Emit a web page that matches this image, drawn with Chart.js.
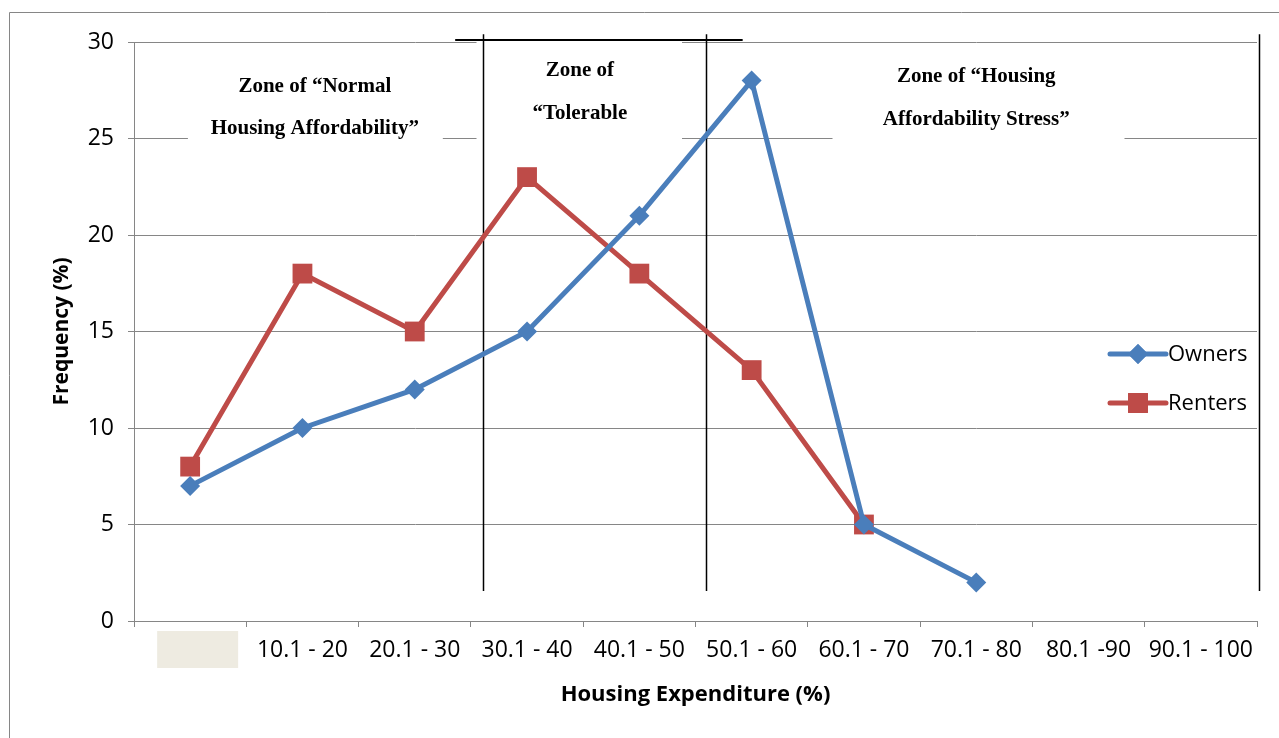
<!DOCTYPE html>
<html>
<head>
<meta charset="utf-8">
<script src="https://cdn.jsdelivr.net/npm/chart.js@4/dist/chart.umd.min.js"></script>
<style>
html, body { margin: 0; padding: 0; background: #fff; }
#wrap { width: 1279px; height: 738px; position: relative; }
</style>
</head>
<body>
<div id="wrap"><canvas id="housingChart"></canvas></div>
<script>
// ================================
// DATA
// ================================

const categories = [
    "",
    "10.1 - 20",
    "20.1 - 30",
    "30.1 - 40",
    "40.1 - 50",
    "50.1 - 60",
    "60.1 - 70",
    "70.1 - 80",
    "80.1 -90",
    "90.1 - 100"
];

const owners = [7, 10, 12, 15, 21, 28, 5, 2, null, null];

const renters = [8, 18, 15, 23, 18, 13, 5, null, null, null];

const yTicks = [0, 5, 10, 15, 20, 25, 30];

const zoneTexts = [
    ["Zone of \u201cNormal", "Housing Affordability\u201d"],
    ["Zone of", "\u201cTolerable"],
    ["Zone of \u201cHousing", "Affordability Stress\u201d"]
];

// ================================
// ANNOTATION LAYOUT (category units / y values)
// ================================

const zoneLineAt = [2.61, 4.59, 9.52];
const zoneTextAt = [
    { x: 1.11, y: [27.7, 25.5] },
    { x: 3.47, y: [28.5, 26.3] },
    { x: 7.0,  y: [28.2, 26.0] }
];
const zoneMasks = [
    { x0: -0.02, x1: 2.25, y0: 29.0, y1: 24.3 },
    { x0: 2.55,  x1: 4.38, y0: 30.2, y1: 24.5 },
    { x0: 5.72,  x1: 8.32, y0: 29.0, y1: 24.3 }
];

const BLUE = "#4A7EBB";
const RED = "#BE4B48";
const GRID = "#868686";
const FONT = "'Open Sans', 'Liberation Sans', sans-serif";

function catX(xs, u) {
    const p0 = xs.getPixelForValue(0);
    const p1 = xs.getPixelForValue(1);
    return p0 + u * (p1 - p0);
}

const zonePlugin = {
    id: "zones",
    beforeDraw(chart) {
        const ctx = chart.ctx;
        ctx.save();
        ctx.strokeStyle = GRID;
        ctx.lineWidth = 1;
        ctx.beginPath();
        ctx.moveTo(9.5, chart.height);
        ctx.lineTo(9.5, 12.5);
        ctx.lineTo(chart.width, 12.5);
        ctx.stroke();
        ctx.restore();
    },
    beforeDatasetsDraw(chart) {
        const ctx = chart.ctx;
        const xs = chart.scales.x;
        const ys = chart.scales.y;
        ctx.save();

        // white boxes behind zone labels
        ctx.fillStyle = "#fff";
        zoneMasks.forEach(m => {
            const x0 = catX(xs, m.x0), x1 = catX(xs, m.x1);
            const y0 = ys.getPixelForValue(m.y0), y1 = ys.getPixelForValue(m.y1);
            ctx.fillRect(x0, y0, x1 - x0, y1 - y0);
        });

        // zone boundaries
        ctx.strokeStyle = "#000";
        ctx.lineWidth = 1.5;
        const top = ys.getPixelForValue(30.4);
        const bottom = ys.getPixelForValue(1.55);
        zoneLineAt.forEach(u => {
            const x = Math.round(catX(xs, u)) + 0.5;
            ctx.beginPath();
            ctx.moveTo(x, top);
            ctx.lineTo(x, bottom);
            ctx.stroke();
        });
        ctx.lineWidth = 2;
        ctx.beginPath();
        const yl = ys.getPixelForValue(30.1);
        ctx.moveTo(catX(xs, 2.36), yl);
        ctx.lineTo(catX(xs, 4.92), yl);
        ctx.stroke();

        // zone labels
        ctx.fillStyle = "#000";
        ctx.font = "bold 21px 'Liberation Serif', 'Times New Roman', serif";
        ctx.textAlign = "center";
        ctx.textBaseline = "middle";
        zoneTexts.forEach((lines, i) => {
            const pos = zoneTextAt[i];
            lines.forEach((t, j) => {
                ctx.fillText(t, catX(xs, pos.x), ys.getPixelForValue(pos.y[j]));
            });
        });
        ctx.restore();
    },
    afterDraw(chart) {
        const ctx = chart.ctx;
        const xs = chart.scales.x;
        const area = chart.chartArea;
        ctx.save();

        // tan box over the first category label
        const cx = xs.getPixelForValue(0);
        ctx.fillStyle = "#EEEBE1";
        ctx.fillRect(cx - 33, area.bottom + 10, 81, 37);

        // legend
        const items = [
            { label: "Owners", color: BLUE, style: "rectRot", r: 10, y: 354 - 42 },
            { label: "Renters", color: RED, style: "rect", r: 14, y: 403 - 42 }
        ];
        ctx.font = "22px " + FONT;
        ctx.textBaseline = "middle";
        ctx.textAlign = "left";
        items.forEach(it => {
            const y = area.top + it.y;
            const x0 = area.right - 147;
            const x1 = area.right - 91;
            ctx.strokeStyle = it.color;
            ctx.lineWidth = 5;
            ctx.lineCap = "round";
            ctx.beginPath();
            ctx.moveTo(x0, y);
            ctx.lineTo(x1, y);
            ctx.stroke();
            ctx.fillStyle = it.color;
            Chart.helpers.drawPoint(ctx, { pointStyle: it.style, radius: it.r, borderWidth: 0 }, (x0 + x1) / 2, y);
            ctx.fill();
            ctx.fillStyle = "#000";
            ctx.fillText(it.label, x1 + 2, y + 1);
        });
        ctx.restore();
    }
};

// ================================
// CHART
// ================================

const ctx = document.getElementById("housingChart");

new Chart(ctx, {
    type: "line",

    data: {
        labels: categories,
        datasets: [
            {
                label: "Owners",
                data: owners,
                borderColor: BLUE,
                backgroundColor: BLUE,
                borderWidth: 5,
                pointStyle: "rectRot",
                pointRadius: 10,
                pointHoverRadius: 10,
                pointBorderWidth: 0,
                tension: 0,
                spanGaps: false
            },
            {
                label: "Renters",
                data: renters,
                borderColor: RED,
                backgroundColor: RED,
                borderWidth: 5,
                pointStyle: "rect",
                pointRadius: 14,
                pointHoverRadius: 14,
                pointBorderWidth: 0,
                tension: 0,
                spanGaps: false
            }
        ]
    },

    options: {
        responsive: true,
        maintainAspectRatio: false,
        animation: false,
        layout: {
            padding: { left: 0, top: 42, right: 22, bottom: 0 }
        },
        plugins: {
            legend: { display: false },
            tooltip: { enabled: false }
        },
        scales: {
            x: {
                offset: true,
                grid: {
                    offset: true,
                    drawOnChartArea: false,
                    color: GRID,
                    tickLength: 6
                },
                border: { color: GRID },
                ticks: {
                    color: "#000",
                    font: { family: FONT, size: 23 },
                    padding: 10,
                    maxRotation: 0,
                    autoSkip: false
                },
                title: {
                    display: true,
                    text: "Housing Expenditure (%)",
                    color: "#000",
                    font: { family: FONT, size: 22, weight: "bold" },
                    padding: { top: 0, bottom: 30 }
                },
                afterFit(s) { s.height = 117; }
            },
            y: {
                min: 0,
                max: 30,
                afterBuildTicks(s) { s.ticks = yTicks.map(v => ({ value: v })); },
                grid: {
                    color: GRID,
                    tickLength: 6
                },
                border: { color: GRID },
                ticks: {
                    color: "#000",
                    font: { family: FONT, size: 23 },
                    padding: 14
                },
                title: {
                    display: true,
                    text: "Frequency (%)",
                    color: "#000",
                    font: { family: FONT, size: 21, weight: "bold" },
                    padding: { top: 49, bottom: 0 }
                },
                afterFit(s) { s.width = 134; }
            }
        }
    },

    plugins: [zonePlugin]
});
</script>
</body>
</html>
